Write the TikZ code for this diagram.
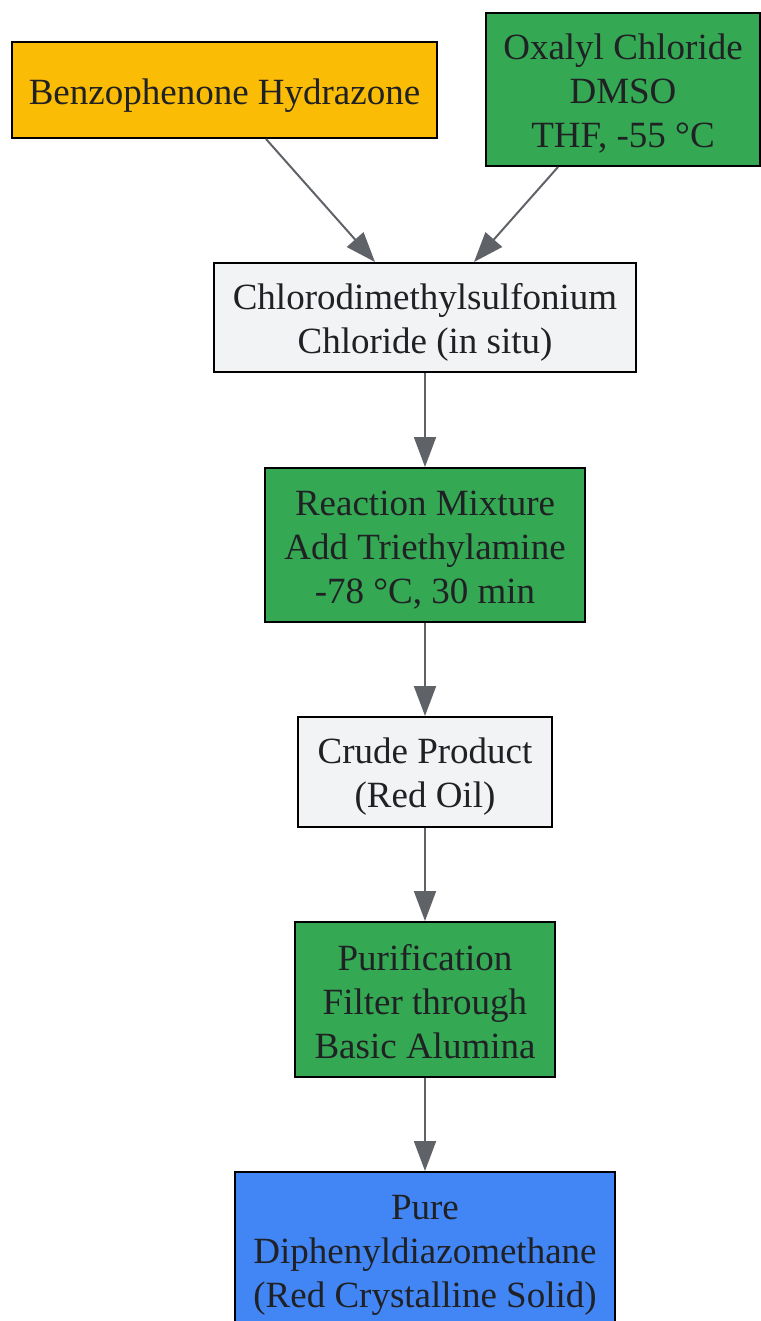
\documentclass[tikz,border=0pt]{standalone}
\usepackage{fontspec}
\setmainfont{Liberation Serif}
\usetikzlibrary{arrows.meta}
\definecolor{cyellow}{HTML}{FBBC05}
\definecolor{cgreen}{HTML}{34A853}
\definecolor{cgray}{HTML}{F1F3F4}
\definecolor{cblue}{HTML}{4285F4}
\definecolor{cedge}{HTML}{5F6368}
\definecolor{ctext}{HTML}{202124}
\tikzset{
  box/.style={draw=black, line width=2pt, align=center, text=ctext, inner sep=0pt,
    font=\fontsize{37}{44}\selectfont, text depth=10pt},
  lineone/.style={box, text height=39pt},
  linetwo/.style={box, text height=81pt},
  linethree/.style={box, text height=127pt},
  flow/.style={draw=cedge, line width=2pt, -{Triangle[length=30pt,width=22pt]}},
}
\begin{document}
\begin{tikzpicture}[x=1pt,y=-1pt]
\useasboundingbox (0,0) rectangle (760,1321);
\node[lineone, fill=cyellow, minimum width=425pt, minimum height=96pt] (bh) at (224.5,90) {Benzophenone Hydrazone};
\node[linethree, fill=cgreen, minimum width=274pt, minimum height=153pt] (ox) at (623,89.5) {Oxalyl Chloride\\DMSO\\THF, -55 °C};
\node[linetwo, fill=cgray, minimum width=422pt, minimum height=109pt] (cd) at (425,317.5) {Chlorodimethylsulfonium\\Chloride (in situ)};
\node[linethree, fill=cgreen, minimum width=320pt, minimum height=154pt] (rm) at (425,545) {Reaction Mixture\\Add Triethylamine\\-78 °C, 30 min};
\node[linetwo, fill=cgray, minimum width=254pt, minimum height=110pt] (cp) at (425,772) {Crude Product\\(Red Oil)};
\node[linethree, fill=cgreen, minimum width=260pt, minimum height=155pt] (pu) at (425,999.5) {Purification\\Filter through\\Basic Alumina};
\node[linethree, fill=cblue, minimum width=380pt, minimum height=154pt] (pd) at (425,1249) {Pure\\Diphenyldiazomethane\\(Red Crystalline Solid)};
\draw[flow] ([xshift=41.5pt]bh.south) -- ([xshift=-50pt]cd.north);
\draw[flow] ([xshift=-65pt]ox.south) -- ([xshift=49pt]cd.north);
\draw[flow] (cd) -- (rm);
\draw[flow] (rm) -- (cp);
\draw[flow] (cp) -- (pu);
\draw[flow] (pu) -- (pd);
\end{tikzpicture}
\end{document}
